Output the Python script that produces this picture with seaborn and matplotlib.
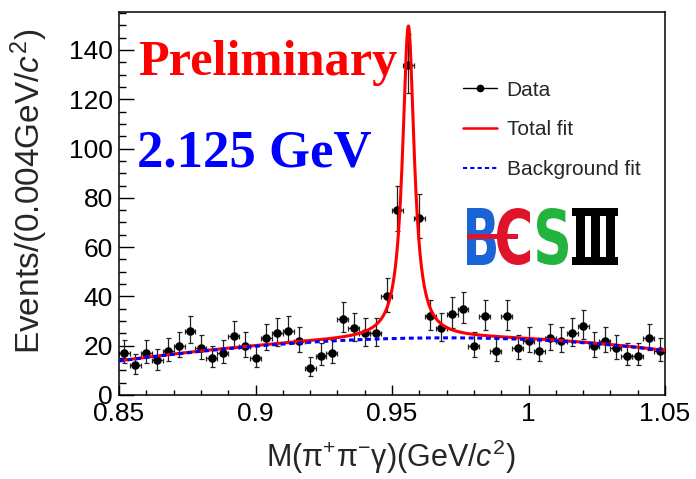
import numpy as np
import pandas as pd
import matplotlib
matplotlib.use("Agg")
import matplotlib.pyplot as plt
import seaborn as sns
from matplotlib.ticker import MultipleLocator, FuncFormatter
from matplotlib.textpath import TextPath
from matplotlib.patches import PathPatch, Rectangle
from matplotlib.font_manager import FontProperties
from matplotlib.transforms import Affine2D
from matplotlib.lines import Line2D

# ---- data: M(pi+ pi- gamma) spectrum, 4 MeV bins from 0.85 to 1.05 GeV ----
bin_width = 0.004
mass_lo, mass_hi = 0.85, 1.05
counts = [17, 12, 17, 14, 18, 20, 26, 19, 15, 17,
          24, 20, 15, 23, 25, 26, 22, 11, 16, 17,
          31, 27, 25, 25, 40, 75, 134, 72, 32, 27,
          33, 35, 20, 32, 18, 32, 19, 22, 18, 23,
          22, 25, 28, 20, 22, 19, 16, 16, 23, 18]

# ---- fit results ----
# background: cubic in t = (m - 0.95) / 0.1
bkg_coeffs = [22.9, 2.9, -7.0, -0.8]
# eta' signal: Breit-Wigner-like line shape
peak_mass = 0.9560
peak_gamma = 0.0026
peak_amp = 126.7

legend_labels = ["Data", "Total fit", "Background fit"]
title_text = "Preliminary"
energy_text = "2.125 GeV"

# ---- derived quantities ----
counts_arr = np.array(counts, dtype=float)
centers = mass_lo + bin_width * (np.arange(len(counts)) + 0.5)
# Poisson (Gehrels) 68% intervals
err_hi = np.sqrt(counts_arr + 0.75) + 1.0
err_lo = counts_arr - counts_arr * (1 - 1 / (9 * counts_arr) - 1 / (3 * np.sqrt(counts_arr))) ** 3

m_grid = np.linspace(mass_lo, mass_hi, 1601)
t = (m_grid - 0.95) / 0.1
bkg = sum(c * t ** k for k, c in enumerate(bkg_coeffs))
sig = peak_amp / (1 + ((m_grid - peak_mass) / peak_gamma) ** 2)
fit_df = pd.DataFrame({"mass": m_grid, "total": bkg + sig, "background": bkg})
data_df = pd.DataFrame({"mass": centers, "events": counts_arr})

# ---- style ----
sns.set_style("ticks")
plt.rcParams["font.family"] = ["Liberation Sans", "DejaVu Sans"]
plt.rcParams["mathtext.fontset"] = "custom"
plt.rcParams["mathtext.rm"] = "Liberation Sans"
plt.rcParams["mathtext.it"] = "Liberation Sans:italic"

W, H = 696, 479
fig = plt.figure(figsize=(W / 100, H / 100), dpi=100)
ax = fig.add_axes([119 / W, 1 - 395 / H, (665 - 119) / W, (395 - 12) / H])

# data points with error bars
ax.errorbar(centers, counts_arr, xerr=bin_width / 2, yerr=[err_lo, err_hi],
            fmt="none", ecolor="#222222", elinewidth=0.9, capsize=1.8,
            capthick=0.9, zorder=2)
sns.scatterplot(data=data_df, x="mass", y="events", ax=ax, color="black",
                s=38, edgecolor="black", linewidth=0, zorder=3, legend=False)

# fit curves
sns.lineplot(data=fit_df, x="mass", y="total", ax=ax, color="#ff0000",
             linewidth=2.2, zorder=4, estimator=None, sort=False)
sns.lineplot(data=fit_df, x="mass", y="background", ax=ax, color="#0000ff",
             linewidth=2.2, linestyle=(0, (1.6, 1.2)), zorder=5,
             estimator=None, sort=False)

ax.set_xlim(mass_lo, mass_hi)
ax.set_ylim(0, 155.4)
ax.set_xlabel("")
ax.set_ylabel("")

ax.xaxis.set_major_locator(MultipleLocator(0.05))
ax.xaxis.set_minor_locator(MultipleLocator(0.01))
ax.yaxis.set_major_locator(MultipleLocator(20))
ax.yaxis.set_minor_locator(MultipleLocator(5))
ax.xaxis.set_major_formatter(FuncFormatter(lambda v, p: f"{v:g}"))
ax.tick_params(which="both", direction="in", top=False, right=False,
               colors="black", width=1.0, labelsize=19)
ax.tick_params(axis="y", which="major", length=10.8, pad=4.5)
ax.tick_params(axis="y", which="minor", length=5.0)
ax.tick_params(axis="x", which="major", length=7.2, pad=5)
ax.tick_params(axis="x", which="minor", length=3.8)
for sp in ax.spines.values():
    sp.set_visible(True)
    sp.set_linewidth(1.1)
    sp.set_color("black")

# axis titles
fig.text(29 / W, 1 - 191 / H, r"Events/(0.004GeV/$c^{2}$)", rotation=90,
         ha="center", va="center", fontsize=24)
fig.text(391 / W, 1 - 457 / H, r"M(π$^{+}$π$^{-}$γ)(GeV/$c^{2}$)",
         ha="center", va="center", fontsize=22)

# overlay labels
fig.text(138 / W, 1 - 75 / H, title_text, color="#ff0000", fontsize=36.3,
         fontweight="bold", family=["Liberation Serif", "DejaVu Serif"],
         ha="left", va="baseline")
fig.text(137 / W, 1 - 166.7 / H, energy_text, color="#0000ff", fontsize=38,
         fontweight="bold", family=["Liberation Serif", "DejaVu Serif"],
         ha="left", va="baseline")

# legend
handles = [
    Line2D([], [], color="black", lw=1.0, marker="o", ms=4.5),
    Line2D([], [], color="#ff0000", lw=1.8),
    Line2D([], [], color="#0000ff", lw=1.5, linestyle=(0, (2, 1.5))),
]
fig.legend(handles, legend_labels, loc="upper left",
           bbox_to_anchor=(463 / W, 1 - 80.5 / H), frameon=False, fontsize=15,
           handlelength=1.63, handletextpad=0.47, labelspacing=1.0,
           borderpad=0, borderaxespad=0)

# BESIII logo built from glyph outlines
logo = fig.add_axes([466 / W, 1 - 268 / H, 154 / W, 62 / H])
logo.set_xlim(0, 154)
logo.set_ylim(0, 62)
logo.set_axis_off()


def glyph(axis, ch, box, color, family, weight="bold"):
    tp = TextPath((0, 0), ch, size=100,
                  prop=FontProperties(family=family, weight=weight))
    ext = tp.get_extents()
    x0, y0, x1, y1 = box
    tr = (Affine2D().translate(-ext.x0, -ext.y0)
          .scale((x1 - x0) / ext.width, (y1 - y0) / ext.height)
          .translate(x0, y0))
    axis.add_patch(PathPatch(tr.transform_path(tp), fc=color, ec="none"))


glyph(logo, "B", (1, 3, 30, 60), "#1a64d8", "DejaVu Sans")
glyph(logo, "C", (31, 3, 64, 60), "#e01428", "DejaVu Sans")
glyph(logo, "S", (71, 3, 102, 60), "#22b43c", "DejaVu Sans")
logo.add_patch(Rectangle((1, 29), 51, 5, fc="#e01428", ec="none"))
# roman numeral three: slab top and bottom with three thick stems
numeral = dict(fc="black", ec="none")
logo.add_patch(Rectangle((106, 52), 46, 8, **numeral))
logo.add_patch(Rectangle((106, 3), 46, 8, **numeral))
for sx in (110, 125, 140):
    logo.add_patch(Rectangle((sx, 3), 9, 57, **numeral))

fig.savefig("out.png", dpi=100)
